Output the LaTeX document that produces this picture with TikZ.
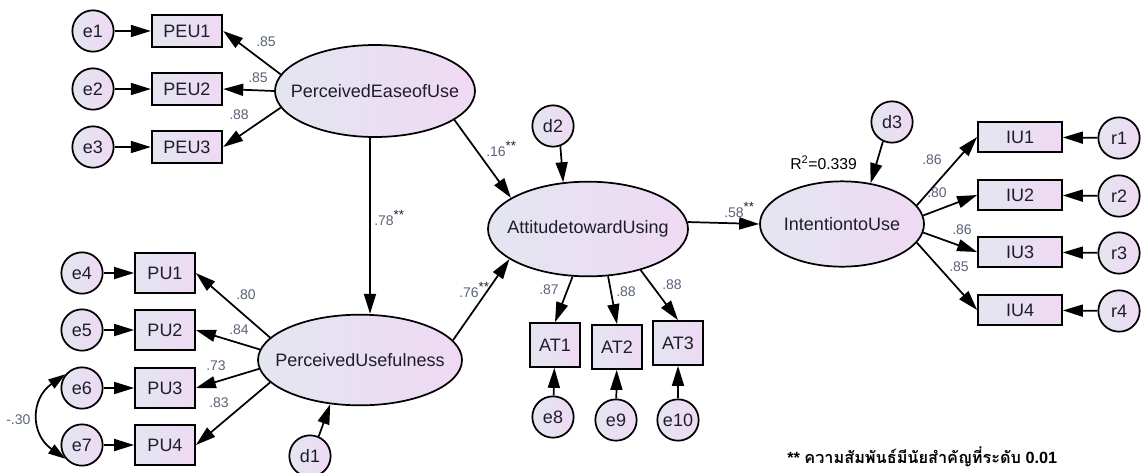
\documentclass[tikz,border=0pt]{standalone}
\usepackage{fontspec}
\setmainfont{Liberation Sans}
\newfontfamily\thaifont[Script=Thai]{Loma}
\usetikzlibrary{arrows.meta,shapes.geometric}
\definecolor{fillL}{HTML}{E3E6F0}
\definecolor{fillR}{HTML}{EFD9F3}
\definecolor{labc}{HTML}{5A6478}
\definecolor{txt}{HTML}{1E1E2A}
\tikzset{
  base/.style={draw=black, line width=1.3pt, left color=fillL, right color=fillR, text=txt, font=\fontsize{13.5}{15}\selectfont, inner sep=0pt},
  lat/.style={base, ellipse},
  obs/.style={base, rectangle},
  err/.style={base, circle, minimum size=31pt},
  arr/.style={line width=1.3pt, -{Triangle[length=15pt,width=9pt]}},
  darr/.style={line width=1.3pt, {Triangle[length=13pt,width=8pt]}-{Triangle[length=13pt,width=8pt]}},
  lab/.style={anchor=west, inner sep=0pt, text=labc, font=\fontsize{10.5}{12}\selectfont},
  sig/.style={anchor=west, inner sep=0pt, text=labc, font=\fontsize{10.5}{12}\selectfont},
  ltext/.style={label={[text=txt, font=\fontsize{13.5}{15}\selectfont]center:#1}},
}
\newcommand{\st}{\raisebox{5pt}{\textcolor{black!85}{\fontsize{10}{10}\selectfont **}}}
\begin{document}
\begin{tikzpicture}[x=0.75pt,y=-0.75pt]
\useasboundingbox[fill=white] (0,0) rectangle (1141,472);
% latent
\node[lat, minimum width=150pt, minimum height=69pt, ltext=PerceivedEaseofUse] (PEU) at (375,91) {};
\node[lat, minimum width=153pt, minimum height=68pt, ltext=PerceivedUsefulness] (PU) at (360,360) {};
\node[lat, minimum width=150pt, minimum height=71pt, ltext=AttitudetowardUsing] (AT) at (588,229) {};
\node[lat, minimum width=123pt, minimum height=64pt, ltext=IntentiontoUse] (IU) at (842,224) {};
% PEU indicators
\foreach \i/\y in {1/31,2/89,3/147}{
  \node[obs, minimum width=53pt, minimum height=24pt] (PEU\i) at (187,\y) {PEU\i};
  \node[err] (e\i) at (93,\y) {e\i};
  \draw[arr] (e\i) -- (PEU\i);
}
% PU indicators
\foreach \i/\y/\e in {1/273/4,2/330/5,3/388/6,4/445/7}{
  \node[obs, minimum width=45pt, minimum height=30pt] (PU\i) at (165,\y) {PU\i};
  \node[err] (e\e) at (82,\y) {e\e};
  \draw[arr] (e\e) -- (PU\i);
}
% AT indicators
\node[obs, minimum width=37pt, minimum height=33pt] (AT1) at (555,345) {AT1};
\node[obs, minimum width=37pt, minimum height=33pt] (AT2) at (617,347) {AT2};
\node[obs, minimum width=37pt, minimum height=33pt] (AT3) at (678,343) {AT3};
\node[err] (e8) at (553,417) {e8};
\node[err] (e9) at (616,420) {e9};
\node[err] (e10) at (678,420) {e10};
\draw[arr] (e8) -- (AT1);
\draw[arr] (e9) -- (AT2);
\draw[arr] (e10) -- (AT3);
% IU indicators
\foreach \i/\y in {1/137,2/195,3/252,4/310}{
  \node[obs, minimum width=63pt, minimum height=22pt] (IU\i) at (1020,\y) {IU\i};
  \node[err] (r\i) at (1119,\y+1) {r\i};
  \draw[arr] (r\i) -- (IU\i);
}
% disturbances
\node[err] (d1) at (310,456) {d1};
\node[err] (d2) at (553,126) {d2};
\node[err] (d3) at (892,122) {d3};
\draw[arr] (d1.66) -- (PU.236);
\draw[arr] (d2.290) -- (AT.118);
\draw[arr] (d3.245) -- (IU.55);
% loadings
\draw[arr] (PEU.170) -- (PEU1.east);
\draw[arr] (PEU.west) -- (PEU2.east);
\draw[arr] (PEU.190) -- (PEU3.east);
\draw[arr] (PU.166) -- (PU1.east);
\draw[arr] (PU.174) -- (PU2.east);
\draw[arr] (PU.185) -- (PU3.east);
\draw[arr] (PU.194) -- (PU4.east);
\draw[arr] (AT.252) -- (AT1.north);
\draw[arr] (AT.293) -- (AT2.north);
\draw[arr] (AT.322) -- (AT3.north);
\draw[arr] (IU.14) -- (IU1.west);
\draw[arr] (IU.6) -- (IU2.west);
\draw[arr] (IU.354) -- (IU3.west);
\draw[arr] (IU.346) -- (IU4.west);
% structural
\draw[arr] ([xshift=-3.75pt]PEU.south) -- ([xshift=7.5pt]PU.north);
\draw[arr] (PEU.340) -- (AT.158);
\draw[arr] (PU.12) -- (AT.201);
\draw[arr] (AT.4) -- (IU.west);
% covariance
\draw[darr] (e6.140) to[out=215,in=145,looseness=1.3] (e7.220);
% labels
\node[lab] at (256,42) {.85};
\node[lab] at (248,78) {.85};
\node[lab] at (229,115) {.88};
\node[lab] at (236,295) {.80};
\node[lab] at (229,330) {.84};
\node[lab] at (206,366) {.73};
\node[lab] at (209,403) {.83};
\node[lab] at (6,420) {-.30};
\node[sig] at (374,218) {.78\st};
\node[sig] at (459,290) {.76\st};
\node[sig] at (486,149) {.16\st};
\node[sig] at (724,210) {.58\st};
\node[lab] at (539,290) {.87};
\node[lab] at (616,292) {.88};
\node[lab] at (662,285) {.88};
\node[lab] at (922,160) {.86};
\node[lab] at (927,193) {.80};
\node[lab] at (952,230) {.86};
\node[lab] at (949,267) {.85};
\node[anchor=west, inner sep=0pt, font=\fontsize{11.8}{13}\selectfont] (r2lab) at (790,163) {R\textsuperscript{2}=0.339};
\node[anchor=west, inner sep=0pt, font=\fontsize{12.2}{14}\selectfont\bfseries] (note) at (787,457) {** {\thaifont ความสัมพันธ์มีนัยสำคัญที่ระดับ} 0.01};
\end{tikzpicture}
\end{document}
